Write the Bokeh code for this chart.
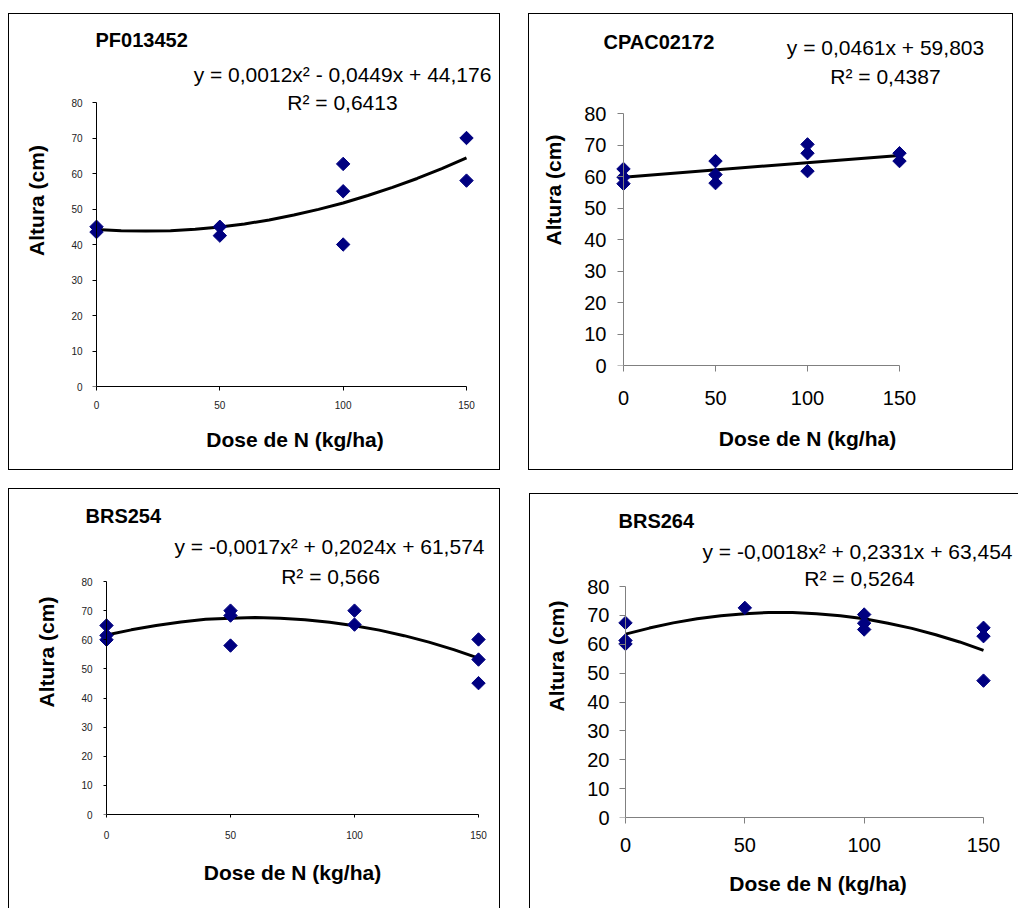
import numpy as np
from bokeh.plotting import figure
from bokeh.models import Range1d, Label, Spacer, FixedTicker, LinearAxis
from bokeh.layouts import column, row
from bokeh.embed import file_html
from bokeh.resources import INLINE

# ---------------- data ----------------
fit_x = [0, 10, 20, 30, 40, 50, 60, 70, 80, 90, 100, 110, 120, 130, 140, 150]

pf_x = [0, 0, 50, 50, 100, 100, 100, 150, 150]
pf_y = [45.0, 43.5, 45.0, 42.5, 62.7, 55.0, 40.0, 70.0, 58.0]
pf_fit = [44.2, 43.9, 43.8, 43.9, 44.3, 44.9, 45.8, 46.9, 48.3, 49.9, 51.7, 53.8, 56.1, 58.6, 61.4, 64.4]

cp_x = [0, 0, 0, 50, 50, 50, 100, 100, 100, 150, 150]
cp_y = [62.4, 59.8, 57.7, 64.9, 60.6, 57.9, 70.2, 67.4, 61.7, 67.4, 64.9]
cp_fit_x = [0, 150]
cp_fit = [59.8, 66.7]

b254_x = [0, 0, 0, 50, 50, 50, 100, 100, 150, 150, 150]
b254_y = [64.9, 61.5, 60.0, 70.0, 68.3, 58.0, 70.0, 65.2, 60.1, 53.2, 45.1]
b254_fit = [61.6, 63.4, 64.9, 66.1, 67.0, 67.4, 67.6, 67.4, 66.9, 66.0, 64.8, 63.3, 61.4, 59.2, 56.6, 53.7]

b264_x = [0, 0, 0, 50, 100, 100, 100, 150, 150, 150]
b264_y = [67.4, 61.3, 60.1, 72.6, 70.3, 67.3, 65.1, 65.7, 62.8, 47.4]
b264_fit = [63.5, 65.6, 67.4, 68.8, 69.9, 70.6, 71.0, 71.0, 70.6, 69.9, 68.8, 67.3, 65.5, 63.3, 60.8, 57.9]

x_ticks = [0, 50, 100, 150]
y_ticks = [0, 10, 20, 30, 40, 50, 60, 70, 80]

titles = ["PF013452", "CPAC02172", "BRS254", "BRS264"]
equations = ["y = 0,0012x\u00b2 - 0,0449x + 44,176",
             "y = 0,0461x + 59,803",
             "y = -0,0017x\u00b2 + 0,2024x + 61,574",
             "y = -0,0018x\u00b2 + 0,2331x + 63,454"]
r2_texts = ["R\u00b2 = 0,6413", "R\u00b2 = 0,4387", "R\u00b2 = 0,566", "R\u00b2 = 0,5264"]
x_label = "Dose de N (kg/ha)"
y_label = "Altura (cm)"

FONT = "Liberation Sans"
NAVY = "#000080"


def panel(box, ax, frame_left, borders, small, tick_out, axis_color, label_right, ylstand,
          xstand, xlstand, title, title_pos, eq, eq_pos, r2, r2_pos, xs, ys, fx, fy):
    bl, bt, br, bb = box
    x0, x150, y0, y80 = ax
    w = br - bl
    h = bb - bt
    il = bl + (1 if "left" in borders else 0)
    it = bt + (1 if "top" in borders else 0)
    cr = il + w          # canvas keeps its full size inside the css border
    cb = it + h
    sx = (x150 - x0) / 150.0
    sy = (y0 - y80) / 80.0
    styles = {"box-sizing": "border-box", "overflow": "hidden"}
    for side in ["left", "top", "right", "bottom"]:
        styles["border-" + side] = "1px solid black" if side in borders else "none"
    p = figure(width=w, height=h,
               x_range=Range1d(-(x0 - frame_left) / sx, 150 + (cr - x150) / sx),
               y_range=Range1d(0, 80 + (y80 - it) / sy),
               output_backend="svg", toolbar_location=None,
               min_border_left=int(round(frame_left - il)),
               min_border_right=0,
               min_border_top=0,
               min_border_bottom=int(round(cb - y0)),
               styles=styles)
    p.outline_line_color = None
    p.grid.visible = False
    p.background_fill_color = "white"
    p.border_fill_color = "white"

    tick_size = "10px" if small else "20px"
    tick_color = "#222222" if small else "black"

    # x axis (at frame bottom == y 0)
    xa = p.xaxis[0]
    xa.bounds = (0, 150)
    xa.ticker = FixedTicker(ticks=x_ticks)
    xa.minor_tick_line_color = None
    xa.major_tick_in = 0
    xa.major_tick_out = tick_out
    xa.axis_line_color = axis_color
    xa.major_tick_line_color = axis_color
    xa.major_label_standoff = xstand
    xa.axis_label_standoff = xlstand

    # y axis carrying tick labels and the axis label (at the frame's left edge)
    ya = p.yaxis[0]
    ya.bounds = (0, 80)
    ya.ticker = FixedTicker(ticks=y_ticks)
    ya.minor_tick_line_color = None
    ya.major_tick_in = 0
    ya.major_tick_out = 0
    ya.axis_line_color = None
    ya.major_tick_line_color = None
    ya.major_label_standoff = int(round(frame_left - label_right))
    ya.axis_label_standoff = ylstand

    for a in (xa, ya):
        a.major_label_text_font = FONT
        a.major_label_text_font_size = tick_size
        a.major_label_text_color = tick_color
        a.axis_label_text_font = FONT
        a.axis_label_text_font_style = "bold"
        a.axis_label_text_font_size = "21px"
        a.axis_label_text_color = "black"
    xa.axis_label = x_label
    ya.axis_label = y_label

    # y axis line and ticks at x = 0
    y_line = LinearAxis(fixed_location=0, ticker=FixedTicker(ticks=y_ticks), bounds=(0, 80),
                        major_tick_in=0, major_tick_out=tick_out, minor_tick_line_color=None,
                        axis_line_color=axis_color, major_tick_line_color=axis_color,
                        major_label_overrides={t: "" for t in y_ticks},
                        major_label_standoff=0, major_label_text_font_size="1px")
    p.add_layout(y_line, "left")

    p.line(fx, fy, line_color="black", line_width=3)
    p.scatter(xs, ys, marker="square", angle=np.pi / 4, size=9.5,
              fill_color=NAVY, line_color=NAVY)

    def to_data(px, py):
        return (px - x0) / sx, (y0 - py) / sy

    tx, ty = to_data(*title_pos)
    p.add_layout(Label(x=tx, y=ty, text=title, text_font=FONT, text_font_style="bold",
                       text_font_size="20px", text_color="black",
                       text_align="left", text_baseline="middle"))
    ex, ey = to_data(*eq_pos)
    p.add_layout(Label(x=ex, y=ey, text=eq, text_font=FONT, text_font_size="21px",
                       text_color="black", text_align="center", text_baseline="middle"))
    rx, ry = to_data(*r2_pos)
    p.add_layout(Label(x=rx, y=ry, text=r2, text_font=FONT, text_font_size="21px",
                       text_color="black", text_align="center", text_baseline="middle"))
    return p


p1 = panel((8, 13, 500, 470), (96, 466, 386, 102), 88, ["left", "top", "right", "bottom"], True, 4,
           "black", 82, 20, 10, 16, titles[0], (95, 39), equations[0], (342, 74), r2_texts[0], (342, 102),
           pf_x, pf_y, fit_x, pf_fit)
p2 = panel((528, 13, 1013, 470), (623, 899, 365, 113), 600, ["left", "top", "right", "bottom"], False, 6,
           "#808080", 606, 16, 19, 19, titles[1], (603, 41), equations[1], (885, 47), r2_texts[1], (885, 76),
           cp_x, cp_y, cp_fit_x, cp_fit)
p3 = panel((8, 488, 500, 908), (106, 478, 814, 581), 83, ["left", "top", "right"], True, 3,
           "black", 92, 20, 13, 19, titles[2], (85, 515), equations[2], (329, 546), r2_texts[2], (330, 576),
           b254_x, b254_y, fit_x, b254_fit)
p4 = panel((529, 493, 1018, 908), (625, 983, 817, 586), 616, ["left", "top"], False, 6,
           "#808080", 609, 16, 14, 17, titles[3], (618, 520), equations[3], (857, 551), r2_texts[3], (859, 578),
           b264_x, b264_y, fit_x, b264_fit)

layout = column(
    Spacer(width=10, height=13),
    row(Spacer(width=8, height=10), column(Spacer(width=10, height=0), p1),
        Spacer(width=28, height=10), column(Spacer(width=10, height=0), p2)),
    Spacer(width=10, height=18),
    row(Spacer(width=8, height=10), column(Spacer(width=10, height=0), p3),
        Spacer(width=29, height=10), column(Spacer(width=10, height=5), p4)),
)

open("out.html", "w").write(file_html(layout, INLINE))
